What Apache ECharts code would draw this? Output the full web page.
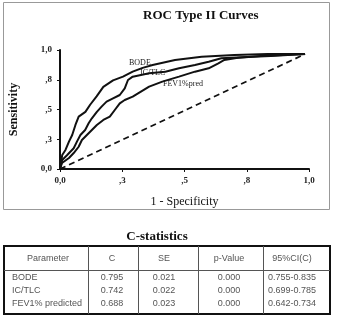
<!DOCTYPE html>
<html>
<head>
<meta charset="utf-8">
<script src="https://cdn.jsdelivr.net/npm/echarts@6/dist/echarts.min.js"></script>
<style>
html,body{margin:0;padding:0;background:#fff;}
#chart{width:337px;height:318px;}
</style>
</head>
<body>
<div id="chart"></div>
<script>
// ---- data ----
var tickValues = [0, 0.25, 0.5, 0.75, 1];
var tickLabels = ['0,0', ',3', ',5', ',8', '1,0'];

var bodeFpr = [0, 0.009, 0.022, 0.036, 0.049, 0.062, 0.075, 0.102, 0.121, 0.147, 0.174, 0.213, 0.253, 0.292, 0.332, 0.372, 0.462, 0.569, 0.70, 0.834, 0.984];
var bodeTpr = [0, 0.118, 0.16, 0.23, 0.286, 0.37, 0.44, 0.48, 0.54, 0.61, 0.69, 0.745, 0.776, 0.818, 0.85, 0.874, 0.916, 0.944, 0.958, 0.966, 0.966];

var ictlcFpr = [0, 0.009, 0.029, 0.055, 0.068, 0.082, 0.101, 0.115, 0.128, 0.148, 0.167, 0.187, 0.213, 0.24, 0.26, 0.273, 0.292, 0.358, 0.423, 0.478, 0.542, 0.597, 0.648, 0.727, 0.846, 0.984];
var ictlcTpr = [0, 0.076, 0.118, 0.174, 0.23, 0.286, 0.328, 0.384, 0.426, 0.48, 0.524, 0.566, 0.594, 0.622, 0.678, 0.748, 0.776, 0.804, 0.818, 0.846, 0.874, 0.902, 0.93, 0.94, 0.95, 0.966];

var fevFpr = [0, 0.008, 0.036, 0.055, 0.075, 0.088, 0.108, 0.128, 0.148, 0.174, 0.2, 0.22, 0.24, 0.26, 0.292, 0.325, 0.358, 0.411, 0.478, 0.542, 0.597, 0.636, 0.66, 0.708, 0.806, 0.984];
var fevTpr = [0, 0.05, 0.092, 0.134, 0.187, 0.244, 0.286, 0.328, 0.37, 0.412, 0.44, 0.496, 0.552, 0.58, 0.608, 0.65, 0.692, 0.734, 0.776, 0.818, 0.846, 0.888, 0.916, 0.933, 0.95, 0.966];

var refFpr = [0, 0.984];
var refTpr = [0, 0.966];

var curveNames = ['BODE', 'IC/TLC', 'FEV1%pred'];

var tableHeader = ['Parameter', 'C', 'SE', 'p-Value', '95%CI(C)'];
var tableParams = ['BODE', 'IC/TLC', 'FEV1% predicted'];
var tableC = ['0.795', '0.742', '0.688'];
var tableSE = ['0.021', '0.022', '0.023'];
var tableP = ['0.000', '0.000', '0.000'];
var tableCI = ['0.755-0.835', '0.699-0.785', '0.642-0.734'];

function zip(a, b) { return a.map(function (v, i) { return [v, b[i]]; }); }

// ---- layout ----
var serif = '"Liberation Serif", "DejaVu Serif", serif';
var sans = '"Liberation Sans", "DejaVu Sans", sans-serif';
var G = { left: 55, top: 50, width: 254, height: 119 };

var chart = echarts.init(document.getElementById('chart'), null, { renderer: 'canvas' });

var lineStyle = { color: '#111', width: 2 };

// table graphics
var tbl = { x: 4, y: 246, w: 326, h: 68, headH: 24 };
var colLines = [88, 138, 198, 263];
var colCenters = [48, 112, 164, 229, 292];
var rowY = [278, 291, 304];
var graphics = [];
// outer frame of chart
graphics.push({ type: 'rect', shape: { x: 3.5, y: 2.5, width: 326, height: 207 }, style: { fill: 'none', stroke: '#999', lineWidth: 1 }, silent: true });
// curve labels
graphics.push({ type: 'text', x: 129, y: 63, style: { text: curveNames[0], font: '8px ' + serif, fill: '#222', textVerticalAlign: 'middle' } });
graphics.push({ type: 'text', x: 140, y: 73, style: { text: curveNames[1], font: '8px ' + serif, fill: '#222', textVerticalAlign: 'middle' } });
graphics.push({ type: 'text', x: 163, y: 84, style: { text: curveNames[2], font: '8px ' + serif, fill: '#222', textVerticalAlign: 'middle' } });
// table title
graphics.push({ type: 'text', x: 157, y: 237, style: { text: 'C-statistics', font: 'bold 13px ' + serif, fill: '#111', textAlign: 'center', textVerticalAlign: 'middle' } });
// table outer
graphics.push({ type: 'rect', shape: { x: tbl.x, y: tbl.y, width: tbl.w, height: tbl.h }, style: { fill: 'none', stroke: '#111', lineWidth: 2 } });
// header separator
graphics.push({ type: 'line', shape: { x1: tbl.x, y1: tbl.y + tbl.headH + 0.5, x2: tbl.x + tbl.w, y2: tbl.y + tbl.headH + 0.5 }, style: { stroke: '#555', lineWidth: 1 } });
colLines.forEach(function (cx) {
  graphics.push({ type: 'line', shape: { x1: cx + 0.5, y1: tbl.y, x2: cx + 0.5, y2: tbl.y + tbl.h }, style: { stroke: '#555', lineWidth: 1 } });
});
tableHeader.forEach(function (h, i) {
  graphics.push({ type: 'text', x: colCenters[i], y: tbl.y + 13, style: { text: h, font: '9px ' + sans, fill: '#555', textAlign: 'center', textVerticalAlign: 'middle' } });
});
var cols = [tableC, tableSE, tableP, tableCI];
tableParams.forEach(function (p, r) {
  graphics.push({ type: 'text', x: 12, y: rowY[r], style: { text: p, font: '9px ' + sans, fill: '#555', textAlign: 'left', textVerticalAlign: 'middle' } });
  cols.forEach(function (col, c) {
    graphics.push({ type: 'text', x: colCenters[c + 1], y: rowY[r], style: { text: col[r], font: '9px ' + sans, fill: '#555', textAlign: 'center', textVerticalAlign: 'middle' } });
  });
});

function labelFmt(v) {
  for (var i = 0; i < tickValues.length; i++) if (Math.abs(v - tickValues[i]) < 1e-6) return tickLabels[i];
  return '';
}

var axisCommon = {
  type: 'value', min: 0, max: 1, interval: 0.25,
  axisLine: { show: true, lineStyle: { color: '#111', width: 2 } },
  axisTick: { show: true, length: 3, lineStyle: { color: '#111', width: 1 } },
  splitLine: { show: false },
  axisLabel: { formatter: labelFmt, fontFamily: serif, fontWeight: 'bold', fontSize: 9, color: '#222' },
  nameLocation: 'middle',
  nameTextStyle: { fontFamily: serif, fontWeight: 'bold', color: '#111' }
};

var option = {
  animation: false,
  backgroundColor: '#fff',
  title: {
    text: 'ROC Type II Curves', left: 138, top: 4,
    textStyle: { fontFamily: serif, fontWeight: 'bold', fontSize: 13, color: '#111' }
  },
  grid: { left: G.left, top: G.top, width: G.width, height: G.height },
  xAxis: Object.assign({}, axisCommon, {
    name: '1 - Specificity', nameGap: 27,
    nameTextStyle: { fontFamily: serif, fontWeight: 'normal', fontSize: 12, color: '#111' },
    axisLabel: Object.assign({}, axisCommon.axisLabel, { margin: 7 })
  }),
  yAxis: Object.assign({}, axisCommon, {
    name: 'Sensitivity', nameGap: 40,
    nameTextStyle: { fontFamily: serif, fontWeight: 'bold', fontSize: 12, color: '#111' },
    axisLabel: Object.assign({}, axisCommon.axisLabel, { margin: 8 })
  }),
  series: [
    { type: 'line', data: zip(refFpr, refTpr), symbol: 'none', lineStyle: { color: '#111', width: 1.8, type: [6, 4] }, z: 1 },
    { type: 'line', name: curveNames[2], data: zip(fevFpr, fevTpr), symbol: 'none', lineStyle: lineStyle },
    { type: 'line', name: curveNames[1], data: zip(ictlcFpr, ictlcTpr), symbol: 'none', lineStyle: lineStyle },
    { type: 'line', name: curveNames[0], data: zip(bodeFpr, bodeTpr), symbol: 'none', lineStyle: lineStyle }
  ],
  graphic: graphics
};
chart.setOption(option);
</script>
</body>
</html>
